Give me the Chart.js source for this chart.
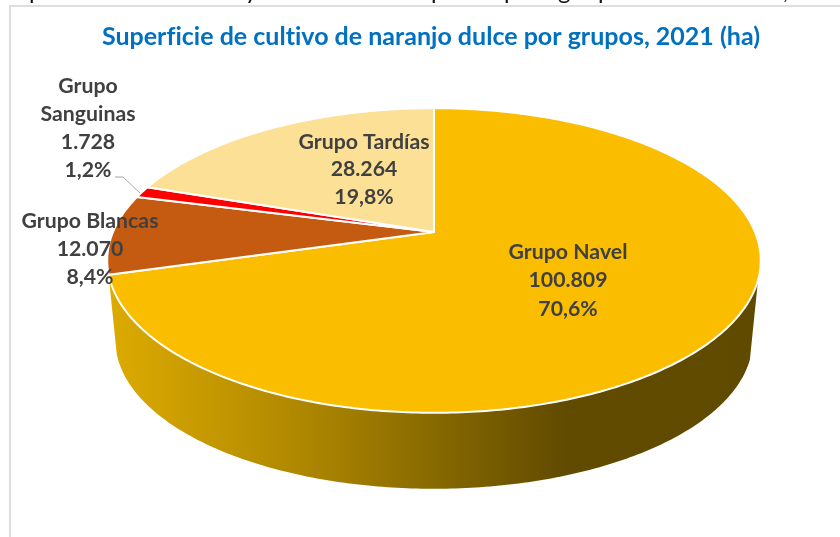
<!DOCTYPE html>
<html><head><meta charset="utf-8">
<style>
html,body{margin:0;padding:0;background:#fff;overflow:hidden}
#wrap{position:absolute;left:0;top:0;width:840px;height:537px}
#frame{position:absolute;left:9px;top:5px;width:840px;height:540px;border:2px solid #DEDEDE;box-sizing:border-box}
canvas{position:absolute;left:0;top:0}
</style>
<script src="https://cdn.jsdelivr.net/npm/chart.js@4"></script>
</head><body>
<div id="wrap"><div id="frame"></div><canvas id="c" width="840" height="537"></canvas></div>
<script>
// Data
const categories = ['Grupo Navel','Grupo Blancas','Grupo Sanguinas','Grupo Tardías'];
const hectares   = [100809, 12070, 1728, 28264];
const sliceColors = ['#FBBD00','#C55A11','#FF0000','#FBE096'];
const titleText = 'Superficie de cultivo de naranjo dulce por grupos, 2021 (ha)';

// Layout of the labels (one line list per slice)
const labelLines = [['Grupo Navel'],['Grupo Blancas'],['Grupo','Sanguinas'],['Grupo Tardías']];
const labelX = [568, 90, 88, 364];
const labelTop = [252, 221, 86, 142];
const labelStep = [28.5, 28, 28, 27.5];
const clipped = [['p',29],['y',245],['p',431],['p',504],['g',558],['p',598],[',',783]];

// Perspective projection of the disc
const view = {cx:434, cy:232, ax:321, by:147, p:0.187, lowScale:0.975, lowDrop:80.5};
function rim(a, s, d){
  const u=Math.sin(a), v=Math.cos(a), w=1+view.p*v;
  return [view.cx+s*view.ax*u/w, view.cy+d-s*view.by*v/w];
}
const TOP = -Math.PI/2;
const sideFrom = 108*Math.PI/180, sideTo = 254.2*Math.PI/180;
function fmt(n){return String(n).replace(/\B(?=(\d{3})+$)/g,'.');}
const total = hectares.reduce((a,b)=>a+b,0);
function pct(n){return (n/total*100).toFixed(1).replace('.',',')+'%';}

const disc3d = {
  id:'disc3d',
  beforeDraw(chart){ chart.ctx.letterSpacing='0.01px'; },
  beforeDatasetsDraw(chart){
    const ctx=chart.ctx, arcs=chart.getDatasetMeta(0).data;
    ctx.save();
    // side wall
    const g=ctx.createLinearGradient(108,0,760,0);
    g.addColorStop(0,'#DDAB00');g.addColorStop(0.3,'#AE8700');
    g.addColorStop(0.5,'#876900');g.addColorStop(0.7,'#614B00');g.addColorStop(1,'#604A00');
    ctx.beginPath();
    const N=200;
    for(let i=0;i<=N;i++){const a=sideFrom+(sideTo-sideFrom)*i/N,q=rim(a,1,0);i?ctx.lineTo(q[0],q[1]):ctx.moveTo(q[0],q[1]);}
    for(let i=N;i>=0;i--){const a=sideFrom+(sideTo-sideFrom)*i/N,q=rim(a,view.lowScale,view.lowDrop);ctx.lineTo(q[0],q[1]);}
    ctx.closePath();ctx.fillStyle=g;ctx.fill();
    // top face, one wedge per library arc
    arcs.forEach((arc,i)=>{
      const s=arc.startAngle-TOP, e=arc.endAngle-TOP, n=Math.max(8,Math.round((e-s)*80));
      ctx.beginPath();ctx.moveTo(view.cx,view.cy);
      for(let k=0;k<=n;k++){const q=rim(s+(e-s)*k/n,1,0);ctx.lineTo(q[0],q[1]);}
      ctx.closePath();
      ctx.fillStyle=sliceColors[i];ctx.fill();
      ctx.lineWidth=2;ctx.strokeStyle='#fff';ctx.lineJoin='round';ctx.stroke();
    });
    ctx.restore();
    return false;
  },
  afterDraw(chart){
    const ctx=chart.ctx;
    ctx.save();
    // leader line
    ctx.strokeStyle='#A6A6A6';ctx.lineWidth=1;ctx.beginPath();
    ctx.moveTo(115,177);ctx.lineTo(123,177);ctx.lineTo(140,193);ctx.stroke();
    // data labels
    ctx.fillStyle='#404040';ctx.font='bold 21.25px Lato';ctx.textAlign='center';ctx.textBaseline='middle';
    categories.forEach((c,i)=>{
      const lines=labelLines[i].concat([fmt(hectares[i]),pct(hectares[i])]);
      lines.forEach((t,k)=>ctx.fillText(t,labelX[i],labelTop[i]+k*labelStep[i]));
    });
    // text of the page above, cut by the picture edge
    ctx.fillStyle='#111';ctx.font='24px Lato';ctx.textAlign='left';ctx.textBaseline='alphabetic';
    clipped.forEach(f=>ctx.fillText(f[0],f[1],-1));
    ctx.restore();
  }
};

new Chart(document.getElementById('c'),{
  type:'pie',
  data:{labels:categories,datasets:[{data:hectares,backgroundColor:sliceColors,borderColor:'#fff'}]},
  options:{
    responsive:false,animation:false,
    layout:{padding:{left:22,top:0}},
    plugins:{
      legend:{display:false},tooltip:{enabled:false},
      title:{display:true,text:titleText,color:'#0070C0',font:{family:'Lato',size:25,weight:'bold'},padding:{top:22,bottom:8}}
    }
  },
  plugins:[disc3d]
});
</script>
</body></html>
